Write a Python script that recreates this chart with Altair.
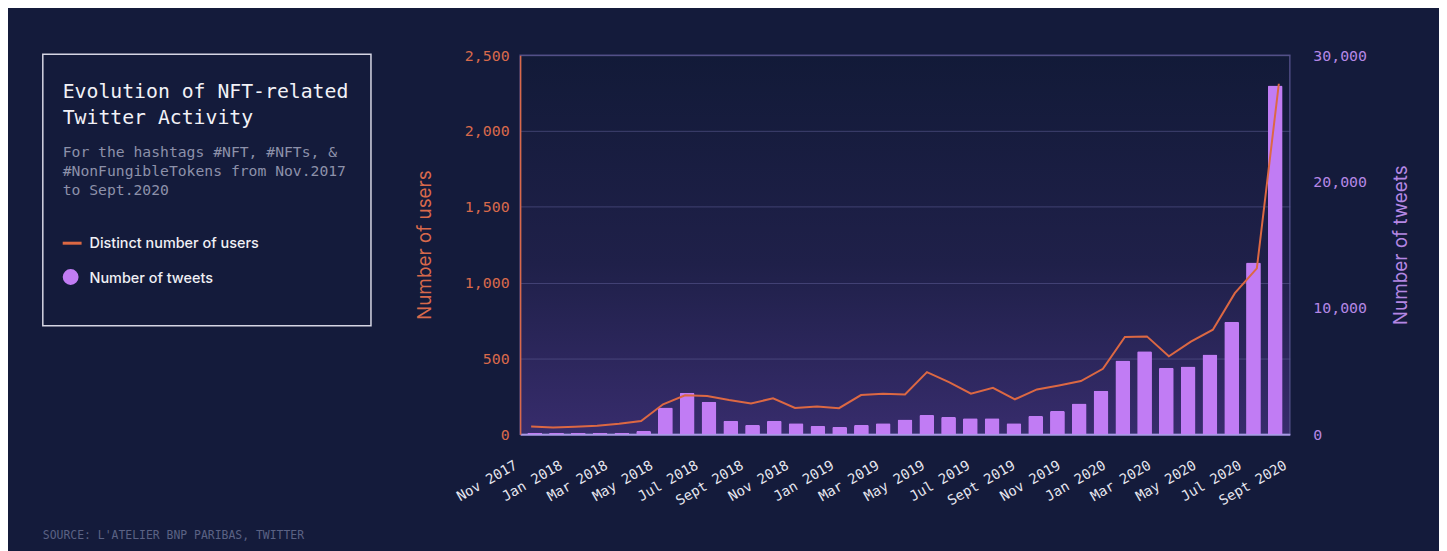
import altair as alt
import pandas as pd

months = ["Nov 2017", "Dec 2017", "Jan 2018", "Feb 2018", "Mar 2018", "Apr 2018", "May 2018",
          "Jun 2018", "Jul 2018", "Aug 2018", "Sept 2018", "Oct 2018", "Nov 2018", "Dec 2018",
          "Jan 2019", "Feb 2019", "Mar 2019", "Apr 2019", "May 2019", "Jun 2019", "Jul 2019",
          "Aug 2019", "Sept 2019", "Oct 2019", "Nov 2019", "Dec 2019", "Jan 2020", "Feb 2020",
          "Mar 2020", "Apr 2020", "May 2020", "Jun 2020", "Jul 2020", "Aug 2020", "Sept 2020"]

users = [50, 44, 48, 55, 68, 87, 197, 256, 251, 225,
         203, 236, 173, 182, 171, 258, 267, 262, 409, 343,
         267, 306, 230, 295, 321, 350, 431, 641, 645, 514,
         610, 689, 930, 1094, 2312]

tweets = [100, 100, 100, 100, 100, 240, 2100, 3280, 2570, 1050,
          730, 1050, 870, 650, 570, 730, 870, 1150, 1520, 1360,
          1260, 1260, 870, 1440, 1830, 2420, 3440, 5830, 6560, 5250,
          5350, 6300, 8900, 13600, 27600]

label_months = months[::2]
user_ticks = [0, 500, 1000, 1500, 2000, 2500]
tweet_ticks = [0, 10000, 20000, 30000]

title_lines = ["Evolution of NFT-related", "Twitter Activity"]
subtitle_lines = ["For the hashtags #NFT, #NFTs, &", "#NonFungibleTokens from Nov.2017", "to Sept.2020"]
legend_users = "Distinct number of users"
legend_tweets = "Number of tweets"
source_text = "SOURCE: L'ATELIER BNP PARIBAS, TWITTER"

MONO = "DejaVu Sans Mono"
SANS = "Inter"
ORANGE = "#dc6843"
ORANGE_TXT = "#d8694b"
PURPLE = "#c17cf4"
PURPLE_TXT = "#b487e4"
BG = "#141b3b"

W, H = 774, 381
TOTAL_W, TOTAL_H = 1439, 543
PAD_L, PAD_T = 515, 46

df = pd.DataFrame({"month": months, "users": users, "tweets": tweets})
one = pd.DataFrame({"k": [0]})

xband = alt.Scale(paddingInner=0.32, paddingOuter=0.33)

bars = alt.Chart(df).mark_bar(color=PURPLE, cornerRadiusTopLeft=1.5, cornerRadiusTopRight=1.5).encode(
    x=alt.X("month:N", sort=months, scale=xband,
            axis=alt.Axis(orient="bottom", labels=False, ticks=False, title=None, domain=True,
                          domainColor="#a99ae6", domainWidth=2, grid=False)),
    y=alt.Y("tweets:Q", scale=alt.Scale(domain=[0, 30000], nice=False),
            axis=alt.Axis(orient="right", values=tweet_ticks, format=",.0f", grid=False,
                          domain=False, ticks=False, labelPadding=23, labelColor=PURPLE_TXT,
                          labelFont=MONO, labelFontSize=15,
                          title="Number of tweets", titleColor=PURPLE_TXT, titleFont=SANS,
                          titleFontSize=19, titleFontWeight="normal", titleAngle=270,
                          titleX=111, titleY=H / 2, titleAlign="center", titleBaseline="middle")),
)

line = alt.Chart(df).mark_line(color=ORANGE, strokeWidth=2).encode(
    x=alt.X("month:N", sort=months, scale=xband, axis=None),
    y=alt.Y("users:Q", scale=alt.Scale(domain=[0, 2500], nice=False),
            axis=alt.Axis(orient="left", values=user_ticks, format=",.0f", grid=True,
                          gridColor="#5c5a92", gridOpacity=0.6, domain=True,
                          domainColor=ORANGE_TXT, domainWidth=1.5, ticks=False, labelPadding=11,
                          labelColor=ORANGE_TXT, labelFont=MONO, labelFontSize=15,
                          title="Number of users", titleColor=ORANGE_TXT, titleFont=SANS,
                          titleFontSize=19, titleFontWeight="normal", titleAngle=270,
                          titleX=-96, titleY=H / 2, titleAlign="center", titleBaseline="middle")),
)

labels = alt.Chart(df).mark_point(opacity=0).encode(
    x=alt.X("month:N", sort=months, scale=alt.Scale(type="point", padding=0, range=[-8, W - 8]),
            axis=alt.Axis(orient="bottom", values=label_months, labelAngle=-30, labelAlign="right",
                          labelBaseline="top", labelPadding=24, ticks=False, domain=False,
                          labelColor="#e6e6ef", labelFont=MONO, labelFontSize=14, title=None,
                          grid=False, labelOverlap=False)),
)

box = alt.Chart(one).mark_rect(fillOpacity=0, stroke="#d6d6e4", strokeWidth=1.5).encode(
    x=alt.value(-480), x2=alt.value(-150), y=alt.value(-1), y2=alt.value(272))

texts = []
for i, t in enumerate(title_lines):
    texts.append(alt.Chart(one).mark_text(text=t, font=MONO, fontSize=19.9, color="#f2f2f7",
                                          fontWeight=500, align="left", baseline="alphabetic")
                 .encode(x=alt.value(-460), y=alt.value(43 + 26 * i)))
for i, t in enumerate(subtitle_lines):
    texts.append(alt.Chart(one).mark_text(text=t, font=MONO, fontSize=14.8, color="#8d91aa",
                                          align="left", baseline="alphabetic")
                 .encode(x=alt.value(-460), y=alt.value(102 + 19.3 * i)))

leg_rule = alt.Chart(one).mark_rule(color=ORANGE, strokeWidth=3).encode(
    x=alt.value(-460), x2=alt.value(-441), y=alt.value(189))
leg_dot = alt.Chart(one).mark_point(filled=True, color=PURPLE, size=254, opacity=1).encode(
    x=alt.value(-452), y=alt.value(223))
leg_t1 = alt.Chart(one).mark_text(text=legend_users, font=SANS, fontSize=14.5, color="#f0f0f5",
                                  fontWeight=500, align="left", baseline="alphabetic").encode(
    x=alt.value(-433), y=alt.value(194))
leg_t2 = alt.Chart(one).mark_text(text=legend_tweets, font=SANS, fontSize=14.5, color="#f0f0f5",
                                  fontWeight=500, align="left", baseline="alphabetic").encode(
    x=alt.value(-433), y=alt.value(229))
src = alt.Chart(one).mark_text(text=source_text, font=MONO, fontSize=11.5, color="#5b6284",
                               align="left", baseline="middle").encode(
    x=alt.value(-480), y=alt.value(483))

grad_expr = ("{gradient: 'linear', x1: 0, y1: 0, x2: 0, y2: 1, stops: ["
             "{offset: 0, color: '#121a38'}, {offset: 0.55, color: '#1f2049'}, "
             "{offset: 1, color: '#372c6c'}]}")

chart = alt.layer(bars, line, labels, box, *texts, leg_rule, leg_dot, leg_t1, leg_t2, src).resolve_scale(
    x="independent", y="independent"
).properties(
    width=W, height=H,
    autosize=alt.AutoSizeParams(type="none"),
    padding={"left": PAD_L, "top": PAD_T, "right": TOTAL_W - PAD_L - W, "bottom": TOTAL_H - PAD_T - H},
    background=BG,
).configure_view(
    stroke="#4d4a82", strokeWidth=1.5, fill={"expr": grad_expr}
)

chart.save("out.html", embed_options={"renderer": "svg", "actions": False})
